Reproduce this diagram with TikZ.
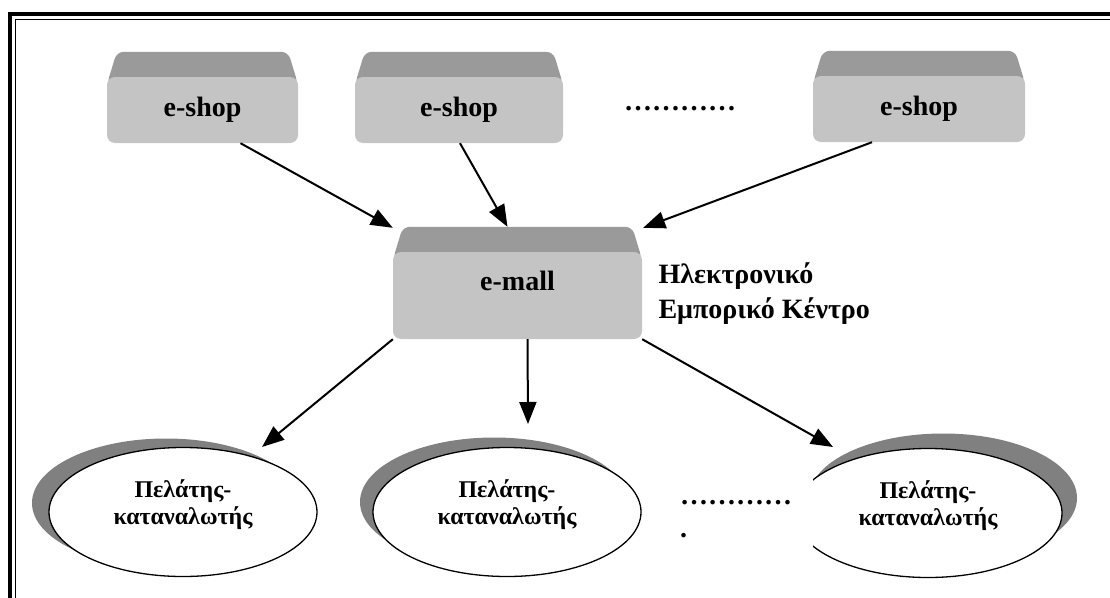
\documentclass[tikz,border=0pt]{standalone}
\usepackage{fontspec}
\setmainfont{Liberation Serif}
\usetikzlibrary{arrows.meta,shapes.geometric,backgrounds}
\definecolor{boxgrey}{HTML}{C4C4C4}
\definecolor{topgrey}{HTML}{9A9A9A}
\definecolor{shadowgrey}{HTML}{808080}

\begin{document}
\begin{tikzpicture}[x=1pt,y=-1pt,
  shopbox/.style={rectangle, rounded corners=8pt, fill=boxgrey, minimum height=66pt, font=\fontsize{28}{30}\selectfont\bfseries},
  topface/.style={fill=topgrey, rounded corners=7pt},
  client/.style={ellipse, draw, line width=1.3pt, fill=white, minimum width=268pt, minimum height=129pt},
  clientshadow/.style={ellipse, fill=shadowgrey, minimum width=268pt, minimum height=129pt},
  clienttext/.style={align=center, font=\fontsize{24}{27}\selectfont\bfseries},
  link/.style={-{Triangle[length=22pt,width=17pt]}, line width=2pt}]
\clip (0,0) rectangle (1110,597);
% frame
\draw[line width=4pt] (10,620) -- (10,14) -- (1130,14);
\draw[line width=1.8pt] (15.5,620) -- (15.5,19.5) -- (1130,19.5);

% shops and mall
\node[shopbox, minimum width=191pt] (shop1) at (202.5,110) {e-shop};
\node[shopbox, minimum width=208pt] (shop2) at (459,110) {e-shop};
\node[font=\fontsize{28}{30}\selectfont\bfseries] (topdots) at (680,109) {…………};
\node[shopbox, minimum width=212pt] (shop4) at (919,109) {e-shop};
\node[shopbox, minimum width=249pt, minimum height=87pt, text height=20pt, text depth=31pt] (mall) at (517.5,295.5) {e-mall};
\node[anchor=west, align=left, font=\fontsize{28}{35}\selectfont\bfseries] (mallname) at (655,294) {Ηλεκτρονικό\\Εμπορικό Κέντρο};
\begin{scope}[on background layer]
\foreach \b in {shop1,shop2,shop4,mall}
  \fill[topface] ([shift={(0,8)}]\b.north west) -- ([shift={(10,-25)}]\b.north west)
    -- ([shift={(-10,-25)}]\b.north east) -- ([shift={(0,8)}]\b.north east) -- cycle;
\end{scope}

% clients
\node[clientshadow] (c1s) at (166,503) {};
\node[client] (c1) at (183,512) {};
\node[clienttext] (c1t) at (183,505) {Πελάτης-\\καταναλωτής};
\node[clientshadow] (c2s) at (494,502) {};
\node[client] (c2) at (507,512) {};
\node[clienttext] (c2t) at (507,505) {Πελάτης-\\καταναλωτής};
\node[clientshadow] (c3s) at (943,498) {};
\node[client] (c3) at (928,513) {};
\node[clienttext] (c3t) at (928,506) {Πελάτης-\\καταναλωτής};
\node[fill=white, text width=129pt, inner sep=4pt, minimum height=90pt, align=left,
  font=\fontsize{28}{33}\selectfont\bfseries] (bottomdots) at (744.5,519) {…………\\.};

% arrows
\draw[link] ([xshift=38pt]shop1.south) -- ([shift={(0,-24)}]mall.north west);
\draw[link] ([xshift=1pt]shop2.south) -- ([shift={(-10,-25)}]mall.north);
\draw[link] ([xshift=-47pt]shop4.south) -- ([shift={(1,-24)}]mall.north east);
\draw[link] (mall.south west) -- ([shift={(79,-65)}]c1.center);
\draw[link] ([xshift=10pt]mall.south) -- ([shift={(21,-88)}]c2.center);
\draw[link] (mall.south east) -- ([shift={(-95,-66)}]c3.center);
\end{tikzpicture}
\end{document}
